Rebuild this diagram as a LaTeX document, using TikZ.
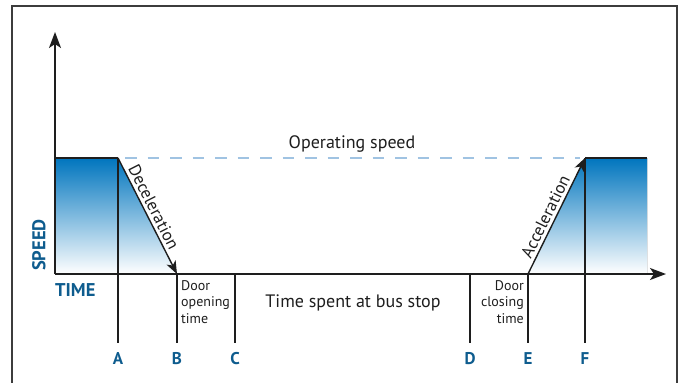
\documentclass[tikz,border=0pt]{standalone}
\usepackage{fontspec}
\setmainfont{PT Sans}
\usetikzlibrary{arrows.meta}

\definecolor{labelblue}{RGB}{14,92,142}
\definecolor{topblue}{RGB}{0,117,190}
\definecolor{midblue}{RGB}{95,150,210}
\definecolor{dashblue}{RGB}{160,195,226}
\definecolor{ink}{RGB}{30,30,30}
\definecolor{framegray}{RGB}{60,60,60}

\begin{document}
\begin{tikzpicture}[x=1pt,y=-1pt,
  framestyle/.style={draw=framegray, line width=1.4pt},
  axisline/.style={draw=ink, line width=1.5pt,
    -{Stealth[length=16pt,width=12pt,inset=4pt]}},
  motion/.style={draw=ink, line width=1.4pt,
    -{Stealth[length=13pt,width=10pt,inset=3.5pt]}},
  marker/.style={draw=ink, line width=1.2pt},
  plateau/.style={draw=ink, line width=1.4pt},
  speedfill/.style={top color=topblue, middle color=midblue, bottom color=white},
  opline/.style={draw=dashblue, line width=2.6pt, dash pattern=on 11.5pt off 11pt},
  letter/.style={font=\fontsize{17}{17}\selectfont\bfseries, text=labelblue, inner sep=0pt},
  axislabel/.style={font=\fontsize{18.5}{18.5}\selectfont\bfseries, text=labelblue, inner sep=0pt},
  caption/.style={font=\fontsize{18}{20}\selectfont, text=ink, inner sep=0pt},
  smallnote/.style={font=\fontsize{14}{16.5}\selectfont, text=ink, inner sep=0pt},
  slopetext/.style={font=\fontsize{17}{20}\selectfont, text=ink, sloped, inner sep=3pt}
]
\useasboundingbox (0,0) rectangle (683,383);

% outer frame (open at the bottom)
\draw[framestyle] (12,383) -- (12,6) -- (677,6) -- (677,383);

% key points of the speed profile
\coordinate (O)    at (55,274);
\coordinate (ytip) at (55,32);
\coordinate (xtip) at (666,274);
\coordinate (Ltop) at (55,158);
\coordinate (Atop) at (118,158);
\coordinate (Bax)  at (177,274);
\coordinate (Cax)  at (235,274);
\coordinate (Dax)  at (470,274);
\coordinate (Eax)  at (528,274);
\coordinate (Ftop) at (585,158);
\coordinate (Rtop) at (647,158);
\coordinate (Rbot) at (647,274);
\coordinate (Abot) at (118,343);
\coordinate (Bbot) at (177,343);
\coordinate (Cbot) at (235,343);
\coordinate (Dbot) at (470,343);
\coordinate (Ebot) at (528,343);
\coordinate (Fbot) at (585,343);

% shaded areas under the speed curve
\fill[speedfill] (Ltop) -- (Atop) -- (Bax) -- (O) -- cycle;
\fill[speedfill] (Eax) -- (Ftop) -- (Rtop) -- (Rbot) -- cycle;

% operating speed level
\draw[opline] ([xshift=7pt]Atop) -- ([xshift=-5pt]Ftop);
\node[caption] (opspeed) at (352,144) {Operating speed};

% time markers
\draw[marker] (Atop) -- (Abot);
\draw[marker] (Bax) -- (Bbot);
\draw[marker] (Cax) -- (Cbot);
\draw[marker] (Dax) -- (Dbot);
\draw[marker] (Eax) -- (Ebot);
\draw[marker] (Ftop) -- (Fbot);

% plateaus at operating speed
\draw[plateau] (Ltop) -- (Atop);
\draw[plateau] (Ftop) -- (Rtop);

% axes
\draw[axisline] (O) -- (ytip);
\draw[axisline] (O) -- (xtip);

% deceleration and acceleration ramps
\draw[motion] (Atop) -- node[slopetext, pos=0.46, above] (decel) {Deceleration} (Bax);
\draw[motion] (Eax) -- node[slopetext, pos=0.46, above] (accel) {Acceleration} (Ftop);

% axis labels
\node[axislabel, rotate=90] (speedlab) at (39,245) {SPEED};
\node[axislabel, anchor=west] (timelab) at (55,290) {TIME};

% interval notes
\node[smallnote, anchor=north west, align=left] (dooropen) at (181,280) {Door\\opening\\time};
\node[smallnote, anchor=north east, align=right] (doorclose) at (524,280) {Door\\closing\\time};
\node[caption] (dwell) at (353,303) {Time spent at bus stop};

% point letters
\node[letter] (labA) at (118,359) {A};
\node[letter] (labB) at (177,359) {B};
\node[letter] (labC) at (235,359) {C};
\node[letter] (labD) at (470,359) {D};
\node[letter] (labE) at (528,359) {E};
\node[letter] (labF) at (585,359) {F};
\end{tikzpicture}
\end{document}
